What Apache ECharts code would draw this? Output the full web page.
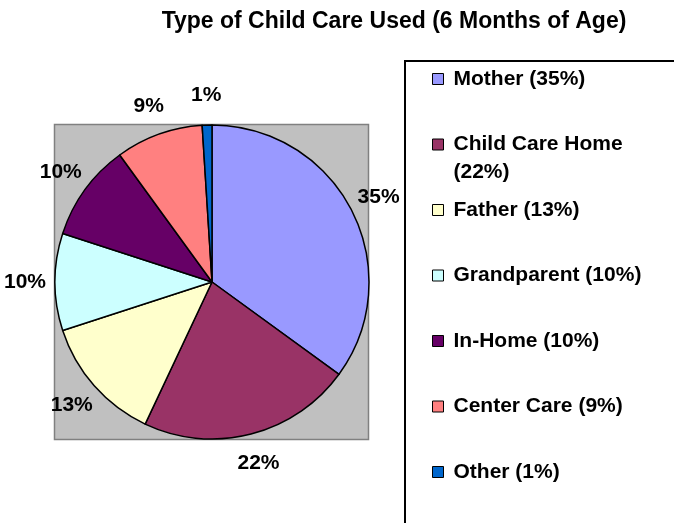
<!DOCTYPE html>
<html><head><meta charset="utf-8">
<script src="https://cdn.jsdelivr.net/npm/echarts@6/dist/echarts.min.js"></script>
<style>html,body{margin:0;padding:0;background:#fff}#c{width:674px;height:523px}</style>
</head><body><div id="c"></div><script>
const titleText = 'Type of Child Care Used (6 Months of Age)';
const categories = ['Mother', 'Child Care Home', 'Father', 'Grandparent', 'In-Home', 'Center Care', 'Other'];
const values = [35, 22, 13, 10, 10, 9, 1];
const palette = ['#9999FF', '#993366', '#FFFFCC', '#CCFFFF', '#660066', '#FF8080', '#0066CC'];

const FONT = '"Liberation Sans", Arial, sans-serif';
const FS = 21;
const LH = 28;
const WRAP = 205;
const cx = 212, cy = 282, R = 157;

const chart = echarts.init(document.getElementById('c'), null, {renderer: 'canvas'});

const ctx = document.createElement('canvas').getContext('2d');
ctx.font = 'bold ' + FS + 'px ' + FONT;
const legendLabel = n => n + ' (' + values[categories.indexOf(n)] + '%)';
const wraps = n => ctx.measureText(legendLabel(n)).width > WRAP;

const legends = categories.map((name, i) => {
  const lines = wraps(name) ? 3 : 1;
  const H = lines * LH;
  const center = 79 + i * 65.5;
  return {
    orient: 'vertical', left: 432, top: center - H / 2, padding: 0,
    itemWidth: 11, itemHeight: 11, itemGap: 0, icon: 'rect',
    selectedMode: false,
    itemStyle: {borderColor: '#000', borderWidth: 1},
    textStyle: {fontSize: FS, fontWeight: 'bold', fontFamily: FONT, color: '#000',
      lineHeight: LH, width: WRAP, overflow: 'break', padding: [0, 0, 0, 5]},
    formatter: n => (wraps(n) ? '\n' : '') + legendLabel(n),
    data: [name]
  };
});

const pieData = categories.map((n, i) => ({name: n, value: values[i], itemStyle: {color: palette[i]}}));
const labelData = categories.map((n, i) => ({name: n, value: values[i]}));

chart.setOption({
  animation: false,
  graphic: [
    {type: 'rect', z: 0, shape: {x: 54.5, y: 124.5, width: 314, height: 315},
      style: {fill: '#C0C0C0', stroke: '#808080', lineWidth: 1.5}},
    {type: 'rect', z: 0, shape: {x: 405, y: 61, width: 400, height: 600},
      style: {fill: '#fff', stroke: '#000', lineWidth: 2}},
    {type: 'text', z: 10, x: 394, y: 10,
      style: {text: titleText, fontSize: 23, fontWeight: 'bold', fontFamily: FONT, fill: '#000',
        align: 'center', verticalAlign: 'top'}}
  ],
  legend: legends,
  series: [
    {type: 'pie', center: [cx, cy], radius: [0, R], startAngle: 90, clockwise: true,
      silent: true, data: pieData,
      itemStyle: {borderColor: '#000', borderWidth: 1.5},
      label: {show: false}, labelLine: {show: false}, emphasis: {disabled: true}},
    {type: 'pie', center: [cx, cy], radius: [180, 188], startAngle: 90, clockwise: true,
      silent: true, data: labelData,
      itemStyle: {color: 'rgba(0,0,0,0)', borderWidth: 0},
      label: {show: true, position: 'inside', formatter: '{c}%', color: '#000',
        fontSize: FS, fontWeight: 'bold', fontFamily: FONT},
      labelLine: {show: false}, emphasis: {disabled: true}}
  ]
});
</script></body></html>
